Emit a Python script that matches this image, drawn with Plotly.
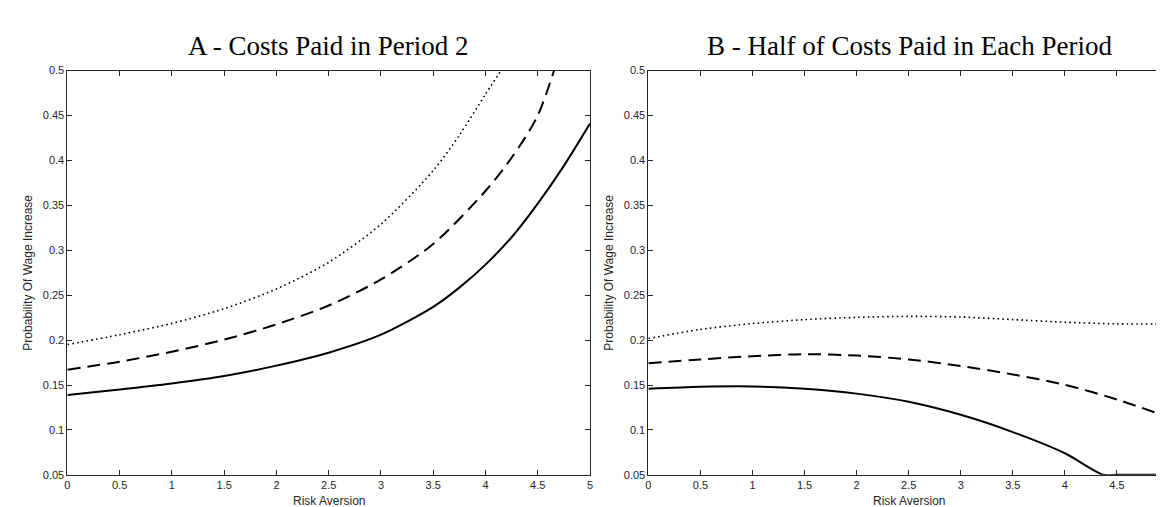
import plotly.graph_objects as go

# ---------------- data ----------------
# Panel A - Costs Paid in Period 2
xA_solid = [0, 0.5, 1, 1.5, 2, 2.5, 3, 3.5, 3.75, 4, 4.25, 4.5, 4.75, 5]
yA_solid = [0.139, 0.145, 0.1517, 0.160, 0.1716, 0.186, 0.206, 0.237, 0.2584, 0.284, 0.3145, 0.352, 0.394, 0.441]
xA_dash = [0, 0.5, 1, 1.5, 2, 2.5, 3, 3.5, 4, 4.25, 4.5, 4.75]
yA_dash = [0.167, 0.176, 0.187, 0.2005, 0.2175, 0.2385, 0.2675, 0.307, 0.366, 0.403, 0.450, 0.535]
xA_dot = [0, 0.5, 1, 1.5, 2, 2.5, 3, 3.5, 3.75, 4, 4.25]
yA_dot = [0.195, 0.206, 0.2186, 0.235, 0.257, 0.2866, 0.329, 0.3887, 0.428, 0.4737, 0.518]

# Panel B - Half of Costs Paid in Each Period
xB_solid = [0, 0.5, 1, 1.5, 2, 2.5, 3, 3.5, 4, 4.37, 4.5, 5]
yB_solid = [0.1458, 0.148, 0.1484, 0.1458, 0.1404, 0.1313, 0.1168, 0.0976, 0.074, 0.05, 0.05, 0.05]
xB = [0, 0.5, 1, 1.5, 2, 2.5, 3, 3.5, 4, 4.5, 5]
yB_dash = [0.1741, 0.1785, 0.1821, 0.1843, 0.1828, 0.1785, 0.1712, 0.1618, 0.1502, 0.1339, 0.1139]
yB_dot = [0.2017, 0.2119, 0.2184, 0.2228, 0.2253, 0.2264, 0.2257, 0.2228, 0.2199, 0.2181, 0.2181]

x_ticks = [0, 0.5, 1, 1.5, 2, 2.5, 3, 3.5, 4, 4.5, 5]
x_ticktext = ["0", "0.5", "1", "1.5", "2", "2.5", "3", "3.5", "4", "4.5", "5"]
y_ticks = [0.05, 0.1, 0.15, 0.2, 0.25, 0.3, 0.35, 0.4, 0.45, 0.5]
y_ticktext = ["0.05", "0.1", "0.15", "0.2", "0.25", "0.3", "0.35", "0.4", "0.45", "0.5"]

titles = ["A - Costs Paid in Period 2", "B - Half of Costs Paid in Each Period"]
x_title = "Risk Aversion"
y_title = "Probability Of Wage Increase"

# ---------------- layout geometry ----------------
W, H = 1164, 507
top_px, bot_px = 58, 472
left_A = (56.7, 582)
left_B = (640.7, 1164)

def fx(px):
    return px / W

def fy(py):
    return (H - py) / H

fig = go.Figure()

solid = dict(color="black", width=2, shape="spline", smoothing=0.8)
dashed = dict(color="black", width=2, dash="13px,7px", shape="spline", smoothing=0.8)
dotted = dict(color="black", width=1.6, dash="1.6px,3.2px", shape="spline", smoothing=0.8)

for xs, ys, st in [(xA_solid, yA_solid, solid), (xA_dash, yA_dash, dashed), (xA_dot, yA_dot, dotted)]:
    fig.add_trace(go.Scatter(x=xs, y=ys, mode="lines", line=st, xaxis="x", yaxis="y",
                             showlegend=False, hoverinfo="skip"))
for xs, ys, st in [(xB_solid, yB_solid, solid), (xB, yB_dash, dashed), (xB, yB_dot, dotted)]:
    fig.add_trace(go.Scatter(x=xs, y=ys, mode="lines", line=st, xaxis="x2", yaxis="y2",
                             showlegend=False, hoverinfo="skip"))

axis_col = "#262626"
tickfont = dict(family="Liberation Sans, Arial, sans-serif", size=11, color=axis_col)
common = dict(showgrid=False, zeroline=False, showline=True, linecolor=axis_col, linewidth=1,
              mirror="ticks", ticks="inside", ticklen=5, tickcolor=axis_col, tickwidth=1,
              tickfont=tickfont)

fig.update_layout(
    width=W, height=H,
    margin=dict(l=0, r=0, t=0, b=0),
    paper_bgcolor="white", plot_bgcolor="white",
    xaxis=dict(domain=[fx(left_A[0]), fx(left_A[1])], range=[0, 5], anchor="y",
               tickvals=x_ticks, ticktext=x_ticktext, **common),
    yaxis=dict(domain=[fy(bot_px), fy(top_px)], range=[0.05, 0.5], anchor="x",
               tickvals=y_ticks, ticktext=y_ticktext, **common),
    xaxis2=dict(domain=[fx(left_B[0]), 1.0], range=[0, 5], anchor="y2",
                tickvals=x_ticks, ticktext=x_ticktext, **common),
    yaxis2=dict(domain=[fy(bot_px), fy(top_px)], range=[0.05, 0.5], anchor="x2",
                tickvals=y_ticks, ticktext=y_ticktext, **common),
)

title_font = dict(family="Liberation Serif, Times New Roman, serif", size=27, color="black")
label_font = dict(family="Liberation Sans, Arial, sans-serif", size=12, color=axis_col)

annotations = []
for (l, r), t in zip([left_A, (640.7, 1165.5)], titles):
    annotations.append(dict(text=t, x=fx((l + r) / 2), y=fy(33), xref="paper", yref="paper",
                            showarrow=False, font=title_font, xanchor="center", yanchor="middle"))
    annotations.append(dict(text=x_title, x=fx((l + r) / 2), y=fy(499), xref="paper", yref="paper",
                            showarrow=False, font=label_font, xanchor="center", yanchor="middle"))
for xc in [17, 601]:
    annotations.append(dict(text=y_title, x=fx(xc), y=fy((top_px + bot_px) / 2), xref="paper",
                            yref="paper", showarrow=False, font=label_font, textangle=-90,
                            xanchor="center", yanchor="middle"))
fig.update_layout(annotations=annotations)

fig.write_html("out.html")
